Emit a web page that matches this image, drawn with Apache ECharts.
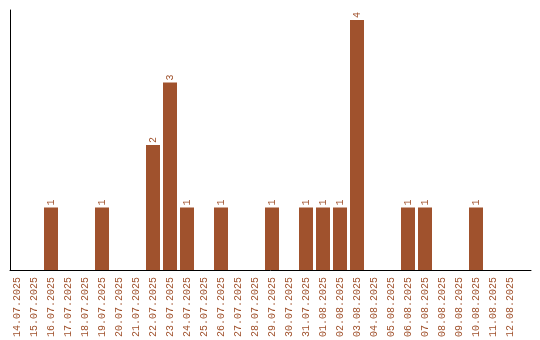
<!DOCTYPE html>
<html><head><meta charset="utf-8">
<script src="https://cdn.jsdelivr.net/npm/echarts@6/dist/echarts.min.js"></script>
<style>html,body{margin:0;padding:0;background:#fff}#c{width:540px;height:340px}</style>
</head><body><div id="c"></div>
<script>
const categories = ['14.07.2025','15.07.2025','16.07.2025','17.07.2025','18.07.2025','19.07.2025','20.07.2025','21.07.2025','22.07.2025','23.07.2025','24.07.2025','25.07.2025','26.07.2025','27.07.2025','28.07.2025','29.07.2025','30.07.2025','31.07.2025','01.08.2025','02.08.2025','03.08.2025','04.08.2025','05.08.2025','06.08.2025','07.08.2025','08.08.2025','09.08.2025','10.08.2025','11.08.2025','12.08.2025'];
const values = [0,0,1,0,0,1,0,0,2,3,1,0,1,0,0,1,0,1,1,1,4,0,0,1,1,0,0,1,0,0];
const yMax = 4.16;
const color = '#a0522d';
const font = 'Liberation Mono';

const chart = echarts.init(document.getElementById('c'));
chart.setOption({
  animation: false,
  grid: [
    {left: 8.5, width: 510, top: 10, height: 260},
    {left: 10, right: 9, top: 10, height: 260}
  ],
  xAxis: [
    {type: 'category', gridIndex: 0, data: categories,
     axisLine: {show: false}, axisTick: {show: false},
     axisLabel: {rotate: 90, interval: 0, color: color, fontFamily: font, fontSize: 10, margin: 7}},
    {type: 'value', gridIndex: 1, min: 0, max: 1,
     axisLine: {show: true, onZero: false, lineStyle: {color: '#000', width: 1}},
     axisTick: {show: false}, axisLabel: {show: false}, splitLine: {show: false}}
  ],
  yAxis: [
    {type: 'value', gridIndex: 0, min: 0, max: yMax,
     axisLine: {show: false}, axisTick: {show: false}, axisLabel: {show: false}, splitLine: {show: false}},
    {type: 'value', gridIndex: 1, min: 0, max: 1,
     axisLine: {show: true, lineStyle: {color: '#000', width: 1}},
     axisTick: {show: false}, axisLabel: {show: false}, splitLine: {show: false}}
  ],
  series: [{
    type: 'bar', xAxisIndex: 0, yAxisIndex: 0, data: values, barWidth: 14,
    itemStyle: {color: color},
    label: {show: true, position: 'top', rotate: 90, align: 'left', verticalAlign: 'middle',
      distance: 2, color: color, fontFamily: font, fontSize: 10,
      formatter: p => p.value ? String(p.value) : ''}
  }]
});
</script></body></html>
